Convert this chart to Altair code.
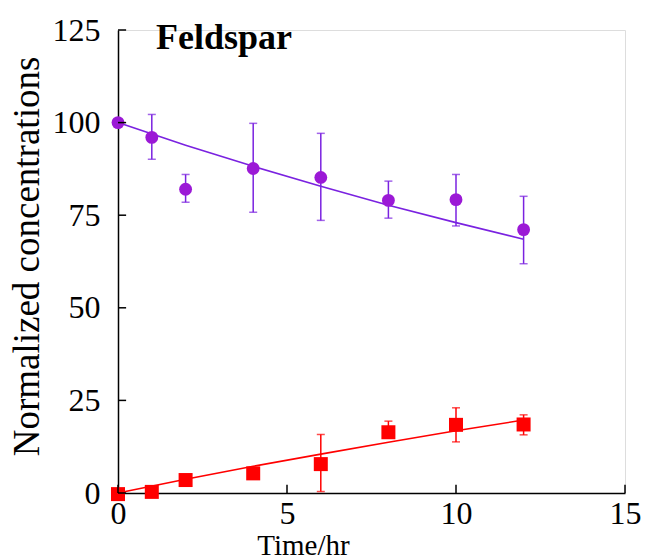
import altair as alt
import pandas as pd

time_pts = [0, 1, 2, 4, 6, 8, 10, 12]

purple_y = [100.0, 96.0, 82.0, 87.6, 85.2, 79.0, 79.2, 71.1]
purple_lo = [100.0, 90.1, 78.5, 75.8, 73.6, 74.2, 72.1, 61.9]
purple_hi = [100.0, 102.2, 86.0, 99.8, 97.1, 84.2, 86.0, 80.1]

red_y = [-0.3, 0.3, 3.5, 5.3, 7.8, 16.4, 18.4, 18.5]
red_lo = [-0.3, 0.3, 3.5, 5.3, 0.4, 15.0, 13.8, 15.7]
red_hi = [-0.3, 0.3, 3.5, 5.3, 15.8, 19.4, 23.0, 21.1]

fit_t = [0, 2, 4, 6, 8, 10, 12]
purple_fit = [100.0, 93.9, 88.2, 82.8, 77.7, 73.0, 68.5]
red_fit = [0.0, 3.7, 7.2, 10.5, 13.7, 16.8, 19.7]

x_ticks = [0, 5, 10, 15]
y_ticks = [0, 25, 50, 75, 100, 125]

PURPLE_PT = "#9b19d6"
PURPLE_LN = "#7a22e0"
RED = "#ff0000"
FONT = "'Liberation Serif', 'Times New Roman', 'DejaVu Serif', serif"

xt = pd.DataFrame({"t": x_ticks})
yt = pd.DataFrame({"v": y_ticks})

xs = alt.Scale(domain=[0, 15], nice=False, zero=False)
ys = alt.Scale(domain=[0, 125], nice=False, zero=False)

xax = alt.Axis(values=x_ticks, ticks=False, labelPadding=5, grid=False,
              labelFont=FONT, labelFontSize=32, labelColor="black",
              titleFont=FONT, titleFontSize=29, titleFontWeight="normal",
              titleColor="black", titlePadding=2, titleX=185,
              domainColor="black", domainWidth=1.5,
              labelFlush=False, labelOverlap=False)
yax = alt.Axis(values=y_ticks, ticks=False, labelPadding=18, grid=False,
              labelFont=FONT, labelFontSize=32, labelColor="black",
              titleFont=FONT, titleFontSize=37, titleFontWeight="normal",
              titleColor="black", titlePadding=6, titleY=226,
              domainColor="black", domainWidth=1.5,
              labelFlush=False, labelOverlap=False)


def series(t, v, lo, hi, ft, fv, pt_color, ln_color, shape, size):
    df = pd.DataFrame({"t": t, "v": v, "lo": lo, "hi": hi})
    fd = pd.DataFrame({"t": ft, "v": fv})
    line = alt.Chart(fd).mark_line(strokeWidth=1.6, color=ln_color).encode(
        x=alt.X("t:Q", scale=xs, axis=xax, title="Time/hr"),
        y=alt.Y("v:Q", scale=ys, axis=yax, title="Normalized concentrations"),
    )
    base = alt.Chart(df)
    bars = base.mark_rule(strokeWidth=1.5, color=ln_color).encode(
        x="t:Q", y="lo:Q", y2="hi:Q")
    cap_lo = base.mark_tick(orient="horizontal", size=8, thickness=1.5,
                            color=ln_color).encode(x="t:Q", y="lo:Q")
    cap_hi = base.mark_tick(orient="horizontal", size=8, thickness=1.5,
                            color=ln_color).encode(x="t:Q", y="hi:Q")
    pts = base.mark_point(shape=shape, filled=True, size=size, opacity=1,
                          color=pt_color).encode(x="t:Q", y="v:Q")
    return [line, bars, cap_lo, cap_hi, pts]


ytick_marks = alt.Chart(yt).mark_rule(color="black", strokeWidth=1.5).encode(
    y="v:Q", x=alt.datum(0), x2=alt.datum(0.24))
xtick_marks = alt.Chart(xt).mark_rule(color="black", strokeWidth=1.5).encode(
    x="t:Q", y=alt.datum(0), y2=alt.datum(2.2))

layers = series(time_pts, purple_y, purple_lo, purple_hi, fit_t, purple_fit,
                PURPLE_PT, PURPLE_LN, "circle", 165)
layers += series(time_pts, red_y, red_lo, red_hi, fit_t, red_fit,
                 RED, RED, "square", 196)

chart = alt.layer(*layers, ytick_marks, xtick_marks).properties(
    width=507, height=463,
    title=alt.TitleParams("Feldspar", anchor="start", frame="group", font=FONT,
                          fontSize=36, fontWeight="bold", color="black",
                          dx=38, dy=43, offset=0),
    autosize=alt.AutoSizeParams(type="none"),
    padding={"left": 118, "top": 30, "right": 22, "bottom": 66},
).configure_view(stroke=None).configure(background="white")

chart.save("out.html", embed_options={"renderer": "svg", "actions": False})
